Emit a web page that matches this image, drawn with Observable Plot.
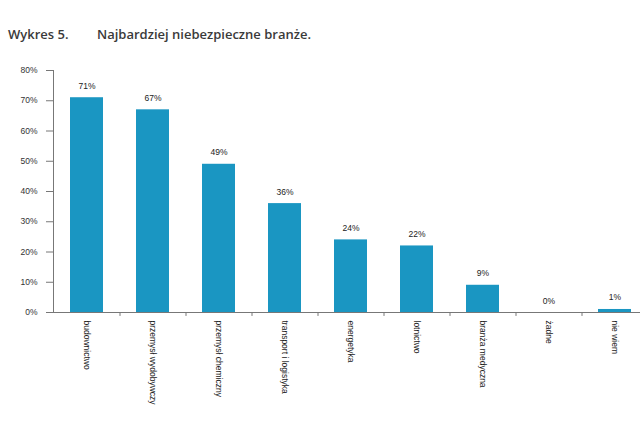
<!DOCTYPE html>
<html>
<head>
<meta charset="utf-8">
<script src="https://cdn.jsdelivr.net/npm/d3@7"></script>
<script src="https://cdn.jsdelivr.net/npm/@observablehq/plot@0.6"></script>
<style>
  html, body { margin: 0; padding: 0; background: #fff; overflow: hidden; }
  #title { height: 50px; position: relative; font-family: "Open Sans", sans-serif; font-weight: 600; font-size: 13px; color: #3a3a3a; }
  #title span { position: absolute; top: 25px; }
  #chart svg { overflow: visible; }
</style>
</head>
<body>
<div id="title"><span style="left:8px">Wykres 5.</span><span style="left:97px">Najbardziej niebezpieczne branże.</span></div>
<div id="chart"></div>
<script>
const categories = ["budownictwo", "przemysł wydobywczy", "przemysł chemiczny", "transport i logistyka", "energetyka", "lotnictwo", "branża medyczna", "żadne", "nie wiem"];
const values = [71, 67, 49, 36, 24, 22, 9, 0, 1];
const yTicks = [0, 10, 20, 30, 40, 50, 60, 70, 80];

const data = categories.map((c, i) => ({category: c, value: values[i]}));
const font = "Liberation Sans, Arial, sans-serif";

const plot = Plot.plot({
  width: 640,
  height: 376,
  marginTop: 20,
  marginBottom: 114,
  marginLeft: 53,
  marginRight: 0,
  style: {fontFamily: font, fontSize: "8.5px", color: "#333", background: "white"},
  x: {domain: categories, range: [53, 647], paddingInner: 0.5, paddingOuter: 0.25, align: 0.5, label: null},
  y: {domain: [0, 80], ticks: yTicks, label: null},
  marks: [
    Plot.ruleY(yTicks.filter(d => d > 0), {x1: 53, x2: 640, stroke: "#c8c8c8", strokeDasharray: "1.5,1.5", strokeWidth: 1}),
    Plot.barY(data, {x: "category", y: "value", fill: "#1a96c2"}),
    Plot.text(data, {x: "category", y: "value", text: d => d.value + "%", dy: -9, lineAnchor: "bottom", fill: "#222", fontSize: 8.5}),
    Plot.axisY({ticks: yTicks, tickFormat: d => d + "%", tickSize: 7, tickPadding: 9, stroke: "#777", fill: "#333", fontSize: 8.5, label: null}),
    Plot.frame({anchor: "left", stroke: "#777"}),
    Plot.frame({anchor: "bottom", stroke: "#777"}),
    Plot.ruleX(categories.slice(1), {x: d => d, y1: 0, y2: -1.3, dx: -33, stroke: "#777"}),
    Plot.axisX({tickSize: 0, tickPadding: 8, tickRotate: 90, textAnchor: "start", fontSize: 8.5, fill: "#222", label: null})
  ]
});
document.getElementById("chart").appendChild(plot);
</script>
</body>
</html>
